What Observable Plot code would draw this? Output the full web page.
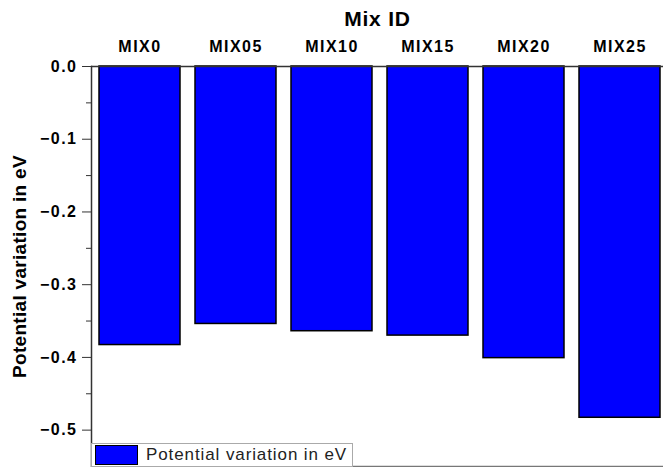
<!DOCTYPE html>
<html><head><meta charset="utf-8">
<script src="https://cdn.jsdelivr.net/npm/d3@7"></script>
<script src="https://cdn.jsdelivr.net/npm/@observablehq/plot@0.6"></script>
<style>
body{margin:0;background:#fff;font-family:"Liberation Sans",Arial,sans-serif;}
#wrap{position:relative;width:663px;height:467px;overflow:hidden;}
#legend{position:absolute;left:91px;top:443px;width:262px;height:24px;border:1px solid #aaa;background:#fff;display:flex;align-items:center;font-size:17px;letter-spacing:0.9px;white-space:nowrap;color:#222;box-sizing:border-box;}
#legend .sw{flex:none;width:43px;height:20px;background:#0000ff;border:1.5px solid #000;margin-left:3px;margin-right:8px;box-sizing:border-box;}
</style></head>
<body><div id="wrap"><div id="legend"><div class="sw"></div>Potential variation in eV</div></div>
<script>
const mixes = ["MIX0","MIX05","MIX10","MIX15","MIX20","MIX25"];
const potential = [-0.383,-0.354,-0.364,-0.370,-0.401,-0.483];
const majorTicks = [0,-0.1,-0.2,-0.3,-0.4,-0.5];
const minorTicks = [-0.05,-0.15,-0.25,-0.35,-0.45];
const yTitle = "Potential variation in eV";
const xTitle = "Mix ID";
const data = mixes.map((m,i)=>({mix:m, v:potential[i]}));
const fmt = d => d === 0 ? "0.0" : d3.format(".1f")(d);
const chart = Plot.plot({
  width: 663, height: 467,
  marginTop: 66, marginLeft: 91, marginRight: 0, marginBottom: 1,
  style: {fontFamily: "Liberation Sans, Arial, sans-serif", background: "transparent"},
  x: {domain: mixes, range: [91, 668], paddingInner: 0.16, paddingOuter: 0.06},
  y: {domain: [-0.55, 0], range: [466, 66]},
  marks: [
    Plot.barY(data, {x: "mix", y: "v", fill: "#0000ff", stroke: "#000", strokeWidth: 1.5}),
    Plot.ruleY([0], {stroke: "#333", strokeWidth: 1.5}),
    Plot.ruleY([-0.55], {stroke: "#777", strokeWidth: 1.5}),
    Plot.frame({anchor: "left", stroke: "#333", strokeWidth: 1.5}),
    Plot.axisY({ticks: majorTicks, tickFormat: fmt, tickSize: 9, tickPadding: 5, fontSize: 16, fontWeight: "bold", fill: "#000", stroke: "#333",
      label: yTitle, labelAnchor: "center", labelArrow: "none", labelOffset: 79}),
    Plot.axisY({ticks: minorTicks, tickSize: 5, text: null, label: null, stroke: "#333"}),
    Plot.axisX({anchor: "top", tickSize: 0, tickPadding: 15, fontSize: 16, fontWeight: "bold", fill: "#000",
      label: xTitle, labelAnchor: "center", labelArrow: "none", labelOffset: 55})
  ]
});
chart.querySelectorAll('[aria-label="y-axis tick label"], [aria-label="x-axis tick label"]').forEach(g=>{g.style.letterSpacing="1.5px";});
chart.querySelectorAll('text').forEach(t=>{
  const s = t.textContent.trim();
  if (s === yTitle) { t.style.fontSize="19px"; t.style.fontWeight="bold"; t.style.letterSpacing="0.3px"; t.setAttribute("fill","#000"); }
  if (s === xTitle) { t.style.fontSize="21px"; t.style.fontWeight="bold"; t.style.letterSpacing="0.8px"; t.setAttribute("fill","#000"); }
});
document.getElementById("wrap").prepend(chart);
</script></body></html>
